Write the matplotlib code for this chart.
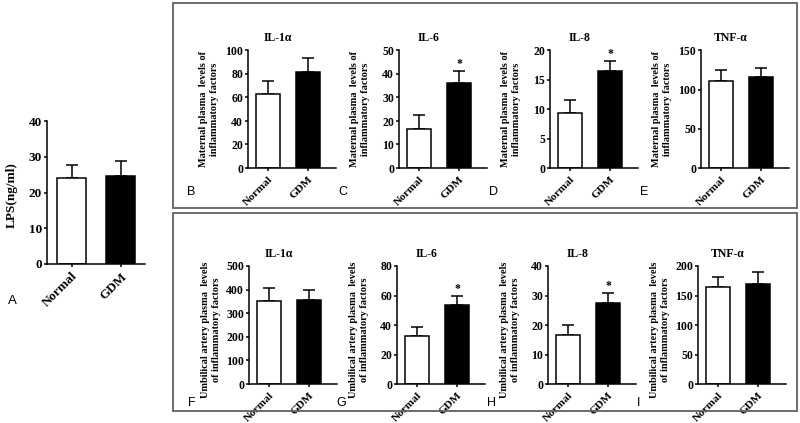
import matplotlib
matplotlib.use("Agg")
import matplotlib.pyplot as plt
from matplotlib.patches import Rectangle

plt.rcParams['font.family'] = 'Liberation Serif'
plt.rcParams['font.weight'] = 'bold'
plt.rcParams['axes.labelweight'] = 'bold'

groups = ['Normal', 'GDM']

# panel A
lps_mean = [24.0, 24.6]
lps_err = [3.7, 4.2]

# maternal plasma
mat_titles = ['IL-1\u03b1', 'IL-6', 'IL-8', 'TNF-\u03b1']
mat_mean = [[63, 82], [16.8, 36.0], [9.4, 16.5], [111.5, 116.5]]
mat_err = [[11, 12], [5.9, 5.2], [2.1, 1.7], [13.5, 11.5]]
mat_ymax = [100, 50, 20, 150]
mat_step = [20, 10, 5, 50]
mat_star = [False, True, True, False]
mat_letters = ['B', 'C', 'D', 'E']

# umbilical artery plasma
umb_titles = ['IL-1\u03b1', 'IL-6', 'IL-8', 'TNF-\u03b1']
umb_mean = [[352, 355], [32.4, 53.6], [16.7, 27.6], [164, 169]]
umb_err = [[56, 43], [6.3, 6.1], [3.2, 3.2], [18, 20]]
umb_ymax = [500, 80, 40, 200]
umb_step = [100, 20, 10, 50]
umb_star = [False, True, True, False]
umb_letters = ['F', 'G', 'H', 'I']

W, H = 800, 423
fig = plt.figure(figsize=(8, 4.23), dpi=100)


def px_axes(left, right, top, bottom):
    return fig.add_axes([left / W, 1 - bottom / H, (right - left) / W, (bottom - top) / H])


def bar_panel(ax, mean, err, ymax, step, width=0.58, star=False, fs=8.5, xfs=8.2):
    x = [0, 1]
    ax.bar(x, mean, width=width, color=['white', 'black'], edgecolor='black', linewidth=1.1, zorder=2)
    ax.errorbar(x, mean, yerr=[[0, 0], err], fmt='none', ecolor='black', elinewidth=1.1,
                capsize=4.5, capthick=1.1, zorder=1)
    if star:
        ax.text(1, mean[1] + err[1] + ymax * 0.01, '*', ha='center', va='bottom',
                fontsize=fs, fontweight='bold')
    ax.set_ylim(0, ymax)
    ax.set_yticks(range(0, ymax + 1, step))
    ax.set_yticklabels([str(v) for v in range(0, ymax + 1, step)], fontsize=fs, fontweight='bold')
    ax.set_xticks(x)
    ax.set_xticklabels(groups, rotation=45, ha='right', rotation_mode='anchor',
                       fontsize=xfs, fontweight='bold')
    ax.tick_params(axis='y', length=2.5, width=1.1, pad=1)
    ax.tick_params(axis='x', length=2.5, width=1.1, pad=2)
    for s in ['top', 'right']:
        ax.spines[s].set_visible(False)
    for s in ['left', 'bottom']:
        ax.spines[s].set_linewidth(1.1)


# panel A
axA = px_axes(47, 145, 121, 264)
bar_panel(axA, lps_mean, lps_err, 40, 10, width=0.6, fs=9.5, xfs=9.5)
axA.set_xlim(-0.5, 1.5)
axA.set_ylabel('LPS(ng/ml)', fontsize=9.5, fontweight='bold')
axA.yaxis.set_label_coords(-0.3, 0.48)
fig.text(8 / W, 1 - 301 / H, 'A', family='Liberation Sans', weight='normal', fontsize=9.5, va='center')

# boxes
for top, bottom in [(3, 208), (213, 411)]:
    fig.patches.append(Rectangle((173 / W, 1 - bottom / H), 624 / W, (bottom - top) / H,
                                 transform=fig.transFigure, fill=False, edgecolor='#606060',
                                 linewidth=1.3))

mat_x = [248, 399, 550, 701]
umb_x = [249, 397, 548, 698]

for i in range(4):
    ax = px_axes(mat_x[i], mat_x[i] + 88, 50.5, 168)
    bar_panel(ax, mat_mean[i], mat_err[i], mat_ymax[i], mat_step[i], star=mat_star[i])
    ax.set_xlim(-0.5, 1.7)
    ax.text(0.34, 1.11, mat_titles[i], transform=ax.transAxes, ha='center', va='center',
            fontsize=8.5, fontweight='bold')
    ax.set_ylabel('Maternal plasma  levels of\ninflammatory factors', fontsize=7.4,
                  fontweight='bold', linespacing=1.3)
    ax.yaxis.set_label_coords(-0.33, 0.5)
    fig.text((mat_x[i] - 61) / W, 1 - 192 / H, mat_letters[i], family='Liberation Sans',
             weight='normal', fontsize=9, va='center')

for i in range(4):
    ax = px_axes(umb_x[i], umb_x[i] + 88, 266, 384)
    bar_panel(ax, umb_mean[i], umb_err[i], umb_ymax[i], umb_step[i], star=umb_star[i])
    ax.set_xlim(-0.5, 1.7)
    ax.text(0.34, 1.1, umb_titles[i], transform=ax.transAxes, ha='center', va='center',
            fontsize=8.5, fontweight='bold')
    ax.set_ylabel('Umbilical artery plasma  levels\nof inflammatory factors', fontsize=7.4,
                  fontweight='bold', linespacing=1.3)
    ax.yaxis.set_label_coords(-0.32, 0.46)
    fig.text((umb_x[i] - 61) / W, 1 - 403 / H, umb_letters[i], family='Liberation Sans',
             weight='normal', fontsize=9, va='center')

fig.savefig('out.png', dpi=100)
